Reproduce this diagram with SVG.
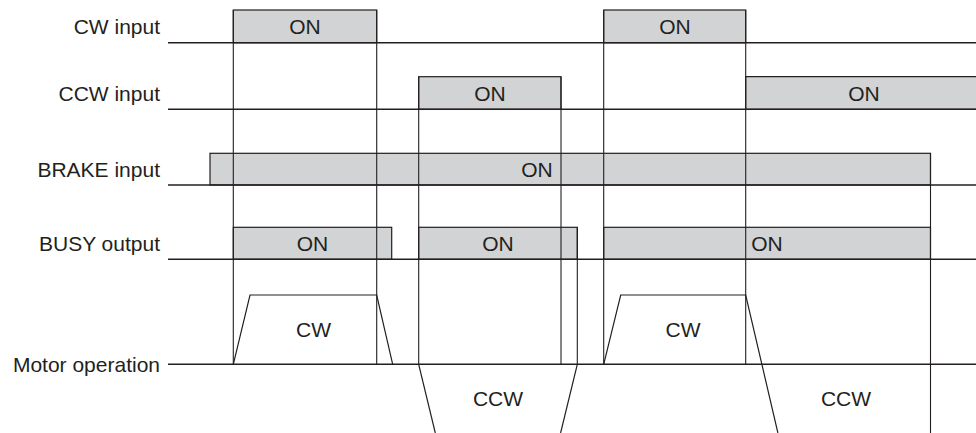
<svg xmlns="http://www.w3.org/2000/svg" width="976" height="433" viewBox="0 0 976 433">
<style>
.lbl{font-family:"Liberation Sans",Arial,sans-serif;font-size:21px;fill:#231f20}
.lbl-r{text-anchor:end}
.c{text-anchor:middle}
.base{stroke:#231f20;stroke-width:1.5;fill:none}
.pulse{fill:#d1d3d4;stroke:#231f20;stroke-width:1.2}
.v{stroke:#231f20;stroke-width:1.1;fill:none}
.wave{stroke:#231f20;stroke-width:1.2;fill:none;stroke-linejoin:miter}
</style>
<rect width="976" height="433" fill="#ffffff"/>

<g id="cw-input">
  <text class="lbl lbl-r" x="160" y="34">CW input</text>
  <rect class="pulse" x="233.3" y="10" width="143.4" height="32.7"/>
  <rect class="pulse" x="603.7" y="10" width="142" height="32.7"/>
  <line class="base" x1="168" y1="42.7" x2="976" y2="42.7"/>
  <text class="lbl c" x="305" y="34">ON</text>
  <text class="lbl c" x="675" y="34">ON</text>
</g>

<g id="ccw-input">
  <text class="lbl lbl-r" x="160" y="100.7">CCW input</text>
  <rect class="pulse" x="418.7" y="76.7" width="142.3" height="32.6"/>
  <path class="pulse" d="M745.7,109.3 V76.7 H977 V109.3 Z"/>
  <line class="base" x1="168" y1="109.3" x2="976" y2="109.3"/>
  <text class="lbl c" x="490" y="100.7">ON</text>
  <text class="lbl c" x="864" y="100.7">ON</text>
</g>

<g id="brake-input">
  <text class="lbl lbl-r" x="160" y="176.7">BRAKE input</text>
  <rect class="pulse" x="210" y="153.3" width="720.5" height="31.7"/>
  <line class="base" x1="168" y1="185" x2="976" y2="185"/>
  <text class="lbl c" x="537" y="176.7">ON</text>
</g>

<g id="busy-output">
  <text class="lbl lbl-r" x="160" y="250.7">BUSY output</text>
  <rect class="pulse" x="233.3" y="227.3" width="158.4" height="32"/>
  <rect class="pulse" x="418.7" y="227.3" width="158.6" height="32"/>
  <rect class="pulse" x="603.7" y="227.3" width="326.8" height="32"/>
  <line class="base" x1="168" y1="259.3" x2="976" y2="259.3"/>
  <text class="lbl c" x="312.5" y="250.7">ON</text>
  <text class="lbl c" x="498" y="250.7">ON</text>
  <text class="lbl c" x="767" y="250.7">ON</text>
</g>

<g id="motor-operation">
  <text class="lbl lbl-r" x="160" y="371.7">Motor operation</text>
  <line class="base" x1="168" y1="364.3" x2="976" y2="364.3"/>
  <polyline class="wave" points="233.3,364.3 250,295 376.7,295 392.7,364.3"/>
  <line class="wave" x1="418.7" y1="364.3" x2="435.3" y2="433"/>
  <line class="wave" x1="577.3" y1="364.3" x2="560.6" y2="433"/>
  <polyline class="wave" points="603.7,364.3 620.7,295 745.7,295 777.9,433"/>
  <text class="lbl c" x="313.5" y="336.7">CW</text>
  <text class="lbl c" x="683" y="336.7">CW</text>
  <text class="lbl c" x="498" y="406">CCW</text>
  <text class="lbl c" x="846" y="406">CCW</text>
</g>

<g id="connectors">
  <line class="v" x1="233.3" y1="10" x2="233.3" y2="364.3"/>
  <line class="v" x1="376.7" y1="10" x2="376.7" y2="364.3"/>
  <line class="v" x1="418.7" y1="76.7" x2="418.7" y2="364.3"/>
  <line class="v" x1="561" y1="76.7" x2="561" y2="364.3"/>
  <line class="v" x1="577.3" y1="227.3" x2="577.3" y2="364.3"/>
  <line class="v" x1="603.7" y1="10" x2="603.7" y2="364.3"/>
  <line class="v" x1="745.7" y1="10" x2="745.7" y2="364.3"/>
  <line class="v" x1="930.5" y1="153.3" x2="930.5" y2="433"/>
</g>
</svg>
